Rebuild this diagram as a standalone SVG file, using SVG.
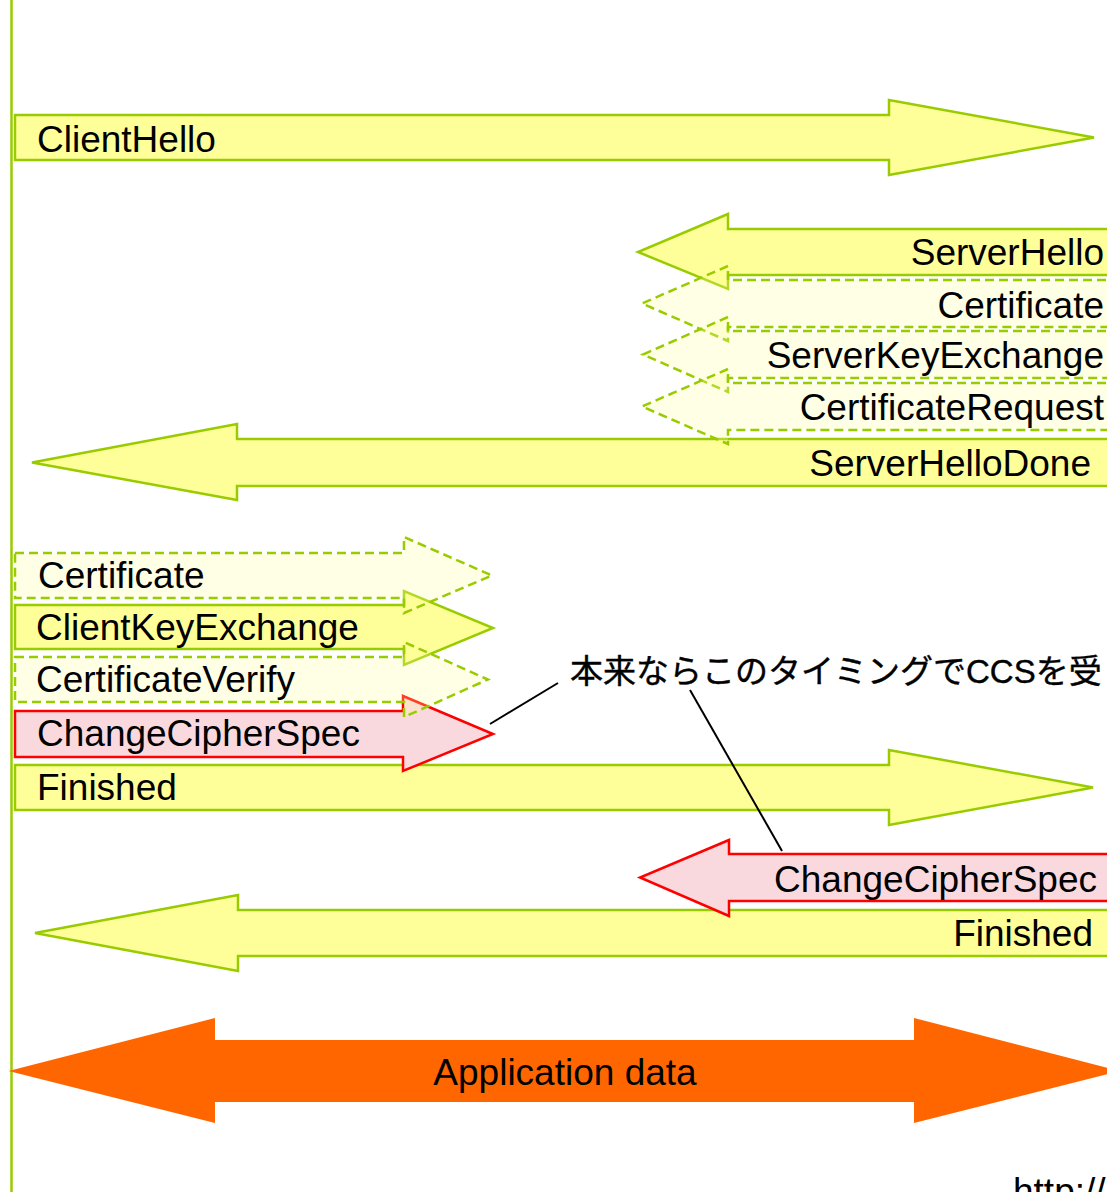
<svg xmlns="http://www.w3.org/2000/svg" width="1107" height="1192" viewBox="0 0 1107 1192">
  <style>
    .msg { fill: #FFFF99; stroke: #99CC00; stroke-width: 2.5; stroke-linejoin: miter; }
    .opt { fill: #FFFF99; fill-opacity: 0.25; stroke: #99CC00; stroke-width: 2.5; stroke-dasharray: 9 5; }
    .ccs { fill: #F9D9DE; stroke: #FF0000; stroke-width: 2.5; }
    .app { fill: #FF6600; }
    .lbl { font-family: "Liberation Sans", Arial, sans-serif; font-size: 37px; fill: #000; }
    .r { text-anchor: end; }
    .note { font-family: "Liberation Sans", "Noto Sans CJK JP", sans-serif; font-size: 33px; fill: #000; stroke: #000; stroke-width: 0.4; }
    .lead { stroke: #000; stroke-width: 2; fill: none; }
  </style>

  <!-- client lifeline -->
  <line x1="11.5" y1="0" x2="11.5" y2="1192" stroke="#99CC00" stroke-width="2.5"/>

  <!-- solid handshake messages -->
  <g id="client-hello">
    <path class="msg" d="M15,115 H889 V100 L1094,137.5 L889,175 V160 H15 Z"/>
    <text class="lbl" x="37" y="152">ClientHello</text>
  </g>
  <g id="server-hello">
    <path class="msg" d="M1120,229 H728 V214 L638,252 L728,289 V275 H1120 Z"/>
  </g>
  <g id="server-hello-done">
    <path class="msg" d="M1120,439 H237 V424 L32,462.5 L237,500 V486 H1120 Z"/>
  </g>
  <g id="client-key-exchange">
    <path class="msg" d="M15,605 H404 V591 L493,628 L404,665 V649 H15 Z"/>
  </g>
  <g id="client-finished">
    <path class="msg" d="M15,765 H889 V750 L1093,787.5 L889,825 V810 H15 Z"/>
  </g>
  <g id="server-finished">
    <path class="msg" d="M1120,910 H238 V895 L35,933 L238,971 V956 H1120 Z"/>
  </g>

  <!-- ChangeCipherSpec messages -->
  <g id="client-ccs">
    <path class="ccs" d="M15,711 H403 V696 L493,734 L403,771 V757 H15 Z"/>
  </g>
  <g id="server-ccs">
    <path class="ccs" d="M1120,854 H729 V840 L640,877.5 L729,916 V901 H1120 Z"/>
  </g>

  <!-- optional messages (dashed, translucent) -->
  <g id="server-certificate">
    <path class="opt" d="M1120,280 H728 V266 L642,303.5 L728,341 V327 H1120 Z"/>
  </g>
  <g id="server-key-exchange">
    <path class="opt" d="M1120,331 H728 V317 L643,354.5 L728,392 V378 H1120 Z"/>
  </g>
  <g id="certificate-request">
    <path class="opt" d="M1120,383 H728 V369 L642,406.5 L728,444 V430 H1120 Z"/>
  </g>
  <g id="client-certificate">
    <path class="opt" d="M15,553 H404 V537 L492,575.5 L404,613 V598 H15 Z"/>
  </g>
  <g id="certificate-verify">
    <path class="opt" d="M15,657 H404 V642 L488,679.5 L404,717 V702 H15 Z"/>
  </g>

  <!-- application data, both directions -->
  <g id="application-data">
    <path class="app" d="M8.5,1071 L215,1018 V1040 H914 V1018 L1120,1071 L914,1123 V1102 H215 V1123 Z"/>
    <text class="lbl" x="565" y="1085" text-anchor="middle">Application data</text>
  </g>

  <!-- labels -->
  <g id="labels">
    <text class="lbl r" x="1104" y="265">ServerHello</text>
    <text class="lbl r" x="1104" y="318">Certificate</text>
    <text class="lbl r" x="1104" y="368">ServerKeyExchange</text>
    <text class="lbl r" x="1104" y="420">CertificateRequest</text>
    <text class="lbl r" x="1091" y="476">ServerHelloDone</text>
    <text class="lbl" x="38" y="588">Certificate</text>
    <text class="lbl" x="36" y="640">ClientKeyExchange</text>
    <text class="lbl" x="36" y="692">CertificateVerify</text>
    <text class="lbl" x="37" y="746">ChangeCipherSpec</text>
    <text class="lbl" x="37" y="800">Finished</text>
    <text class="lbl r" x="1097" y="892">ChangeCipherSpec</text>
    <text class="lbl r" x="1093" y="946">Finished</text>
  </g>

  <!-- annotation -->
  <g id="note">
    <text class="note" x="570" y="683">本来ならこのタイミングでCCSを受</text>
  </g>
  <g id="connectors">
    <line class="lead" x1="490" y1="724" x2="558" y2="683"/>
    <line class="lead" x1="690" y1="690" x2="782" y2="851"/>
  </g>

  <g id="source">
    <text class="lbl" x="1013" y="1204">http://</text>
  </g>
</svg>
